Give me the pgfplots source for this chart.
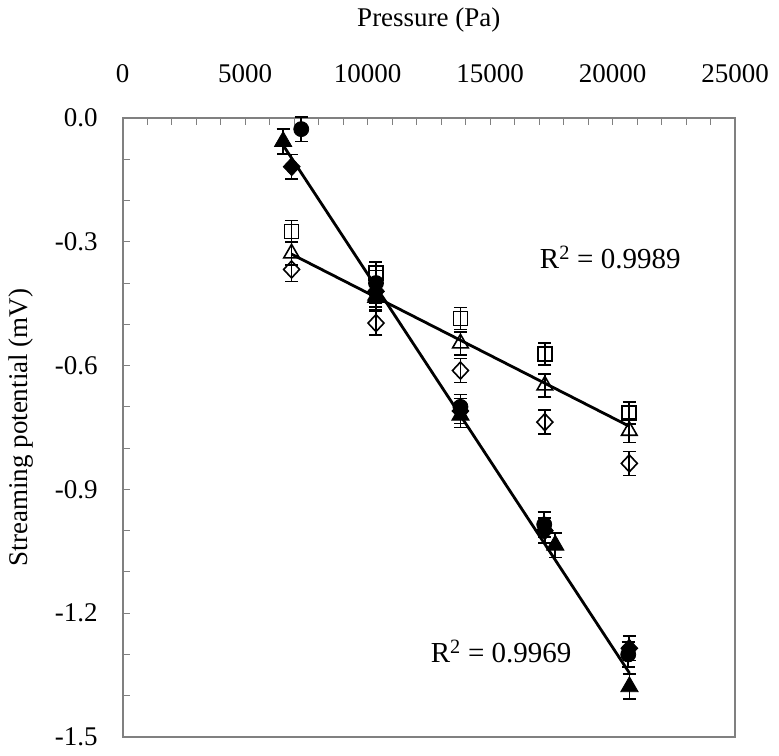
\documentclass[border=0pt]{standalone}
\usepackage{fontspec}
\setmainfont{Liberation Serif}
\usepackage{pgfplots}
\pgfplotsset{compat=1.18}
\begin{document}
\fontsize{27}{32}\selectfont
\begin{tikzpicture}[font=\fontsize{27}{32}\selectfont]
\useasboundingbox (0pt,0pt) rectangle (779pt,755pt);
\begin{axis}[
  at={(122.7pt,18pt)}, anchor=south west,
  scale only axis, width=612.3pt, height=619pt,
  xmin=0, xmax=25000, ymin=-1.5, ymax=0,
  scaled x ticks=false, scaled y ticks=false,
  xtick={0,5000,10000,15000,20000,25000},
  xticklabels={0,5000,10000,15000,20000,25000},
  minor x tick num=4,
  ytick={0,-0.3,-0.6,-0.9,-1.2,-1.5},
  yticklabels={0.0,-0.3,-0.6,-0.9,-1.2,-1.5},
  minor y tick num=2,
  xtick pos=right, xticklabel pos=right,
  ytick pos=left,
  tick align=inside,
  major tick length=7pt, minor tick length=7pt,
  every tick/.style={gray, line width=1pt},
  axis line style={gray, line width=1.6pt},
  xticklabel style={font=\fontsize{27}{32}\selectfont, anchor=base, yshift=35pt},
  yticklabel style={font=\fontsize{27}{32}\selectfont, anchor=east, xshift=-16pt},
  xlabel={Pressure (Pa)},
  xlabel style={font=\fontsize{27}{32}\selectfont, at={(axis description cs:0.5,1)}, anchor=base, yshift=91pt},
  ylabel={Streaming potential (mV)},
  ylabel style={font=\fontsize{27}{32}\selectfont, at={(axis description cs:0,0.5)}, anchor=center, yshift=102pt},
  clip=false,
  error bars/error bar style={line width=1.6pt, black},
  error bars/error mark options={rotate=90, mark size=6.5pt, line width=1.6pt, black},
]
% trend lines
\addplot[black, line width=2.8pt, no marks] coordinates {(6550,-0.066) (20690,-1.345)};
\addplot[black, line width=2.8pt, no marks] coordinates {(6895,-0.330) (20684,-0.747)};
% open diamond
\addplot[black, only marks, mark=diamond, mark size=8.5pt, mark options={fill=none, line width=1.6pt, xscale=1.25},
  error bars/.cd, y dir=both, y explicit]
  coordinates {(6895,-0.367) +- (0,0.029) (10342,-0.497) +- (0,0.029) (13790,-0.612) +- (0,0.029) (17237,-0.737) +- (0,0.029) (20684,-0.837) +- (0,0.029)};
% open triangle
\addplot[black, only marks, mark=triangle, mark size=9pt, mark options={fill=none, line width=1.6pt},
  error bars/.cd, y dir=both, y explicit]
  coordinates {(6895,-0.328) +- (0,0.028) (10342,-0.430) +- (0,0.028) (13790,-0.546) +- (0,0.028) (17237,-0.648) +- (0,0.028) (20684,-0.758) +- (0,0.028)};
% open square
\addplot[black, only marks, mark=square, mark size=7pt, mark options={fill=none, line width=1.6pt},
  error bars/.cd, y dir=both, y explicit]
  coordinates {(6895,-0.275) +- (0,0.027) (10342,-0.376) +- (0,0.027) (13790,-0.486) +- (0,0.027) (17237,-0.572) +- (0,0.027) (20684,-0.715) +- (0,0.027)};
% filled diamond
\addplot[black, only marks, mark=diamond*, mark size=9pt, mark options={fill=black, line width=0.8pt, xscale=1.25},
  error bars/.cd, y dir=both, y explicit]
  coordinates {(6900,-0.118) +- (0,0.03) (10342,-0.420) +- (0,0.03) (13790,-0.710) +- (0,0.03) (17237,-1.000) +- (0,0.03) (20684,-1.285) +- (0,0.03)};
% filled triangle
\addplot[black, only marks, mark=triangle*, mark size=10pt, mark options={fill=black, line width=0.8pt},
  error bars/.cd, y dir=both, y explicit]
  coordinates {(6550,-0.057) +- (0,0.03) (10342,-0.435) +- (0,0.03) (13790,-0.720) +- (0,0.03) (17660,-1.035) +- (0,0.03) (20690,-1.378) +- (0,0.03)};
% filled circle
\addplot[black, only marks, mark=*, mark size=7.5pt, mark options={fill=black, line width=0.8pt},
  error bars/.cd, y dir=both, y explicit]
  coordinates {(7290,-0.027) +- (0,0.03) (10342,-0.400) +- (0,0.03) (13790,-0.700) +- (0,0.03) (17210,-0.985) +- (0,0.03) (20640,-1.300) +- (0,0.03)};
\node[anchor=center, font=\fontsize{29}{34}\selectfont] at (axis cs:19906,-0.337) {R\textsuperscript{2} = 0.9989};
\node[anchor=center, font=\fontsize{29}{34}\selectfont] at (axis cs:15454,-1.293) {R\textsuperscript{2} = 0.9969};
\end{axis}
\end{tikzpicture}
\end{document}
